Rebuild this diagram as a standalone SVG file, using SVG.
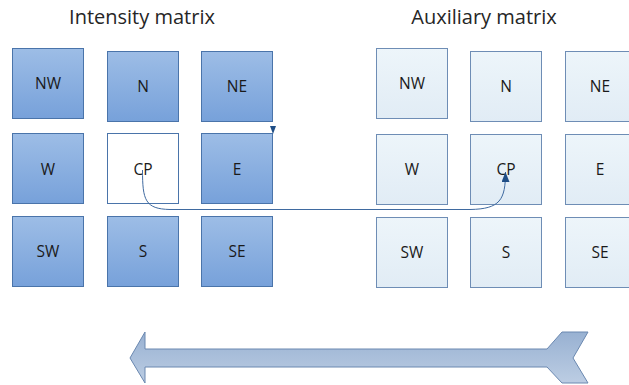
<svg xmlns="http://www.w3.org/2000/svg" width="629" height="385" viewBox="0 0 629 385">
  <defs>
    <linearGradient id="gDark" x1="0" y1="0" x2="0" y2="1">
      <stop offset="0" stop-color="#9dbde6"/>
      <stop offset="1" stop-color="#77a1da"/>
    </linearGradient>
    <linearGradient id="gLight" x1="0" y1="0" x2="0" y2="1">
      <stop offset="0" stop-color="#edf5fa"/>
      <stop offset="1" stop-color="#e1ecf5"/>
    </linearGradient>
    <linearGradient id="gArrow" x1="0" y1="0" x2="0" y2="1">
      <stop offset="0" stop-color="#98b1d2"/>
      <stop offset="1" stop-color="#bccde3"/>
    </linearGradient>
    <marker id="tip" markerWidth="11" markerHeight="8" refX="10" refY="4" orient="auto" markerUnits="userSpaceOnUse" viewBox="0 0 11 8">
      <path d="M0,0 L10,4 L0,8 Z" fill="#1f4e86"/>
    </marker>
  </defs>
  <style>
    .title { font-family: "Open Sans", "Liberation Sans", sans-serif; font-size: 20px; fill: #262626; text-anchor: middle; }
    .lbl { font-family: "Open Sans", "Liberation Sans", sans-serif; font-size: 15.5px; fill: #1a1a1a; text-anchor: middle; dominant-baseline: central; }
    .dark { fill: url(#gDark); stroke: #4a74aa; stroke-width: 1; }
    .light { fill: url(#gLight); stroke: #6e8db5; stroke-width: 1; }
    .blank { fill: #ffffff; stroke: #4a74aa; stroke-width: 1; }
    .conn { fill: none; stroke: #3f6aa0; stroke-width: 1; }
  </style>

  <!-- titles -->
  <text class="title" x="142" y="24">Intensity matrix</text>
  <text class="title" x="484" y="24">Auxiliary matrix</text>

  <!-- intensity matrix -->
  <g id="i-nw"><rect class="dark" x="12.5" y="48.5" width="71" height="70"/><text class="lbl" x="48" y="83">NW</text></g>
  <g id="i-n"><rect class="dark" x="107.5" y="51.5" width="71" height="70"/><text class="lbl" x="143" y="86">N</text></g>
  <g id="i-ne"><rect class="dark" x="201.5" y="51.5" width="71" height="70"/><text class="lbl" x="237" y="86">NE</text></g>
  <g id="i-w"><rect class="dark" x="12.5" y="133.5" width="71" height="70"/><text class="lbl" x="48" y="169">W</text></g>
  <g id="i-cp"><rect class="blank" x="107.5" y="133.5" width="71" height="70"/><text class="lbl" x="143" y="169">CP</text></g>
  <g id="i-e"><rect class="dark" x="201.5" y="133.5" width="71" height="70"/><text class="lbl" x="237" y="169">E</text></g>
  <g id="i-sw"><rect class="dark" x="12.5" y="216.5" width="71" height="70"/><text class="lbl" x="48" y="251">SW</text></g>
  <g id="i-s"><rect class="dark" x="107.5" y="216.5" width="71" height="70"/><text class="lbl" x="143" y="251">S</text></g>
  <g id="i-se"><rect class="dark" x="201.5" y="216.5" width="71" height="70"/><text class="lbl" x="237" y="251">SE</text></g>

  <!-- auxiliary matrix -->
  <g id="a-nw"><rect class="light" x="376.5" y="48.5" width="71" height="70"/><text class="lbl" x="412" y="83">NW</text></g>
  <g id="a-n"><rect class="light" x="470.5" y="51.5" width="71" height="70"/><text class="lbl" x="506" y="86">N</text></g>
  <g id="a-ne"><rect class="light" x="565.5" y="51.5" width="71" height="70"/><text class="lbl" x="600" y="86">NE</text></g>
  <g id="a-w"><rect class="light" x="376.5" y="134.5" width="71" height="70"/><text class="lbl" x="412" y="169">W</text></g>
  <g id="a-cp"><rect class="light" x="470.5" y="134.5" width="71" height="70"/><text class="lbl" x="506" y="169">CP</text></g>
  <g id="a-e"><rect class="light" x="565.5" y="134.5" width="71" height="70"/><text class="lbl" x="600" y="169">E</text></g>
  <g id="a-sw"><rect class="light" x="376.5" y="217.5" width="71" height="70"/><text class="lbl" x="412" y="252">SW</text></g>
  <g id="a-s"><rect class="light" x="470.5" y="217.5" width="71" height="70"/><text class="lbl" x="506" y="252">S</text></g>
  <g id="a-se"><rect class="light" x="565.5" y="217.5" width="71" height="70"/><text class="lbl" x="600" y="252">SE</text></g>

  <!-- connectors -->
  <g id="connectors">
    <path class="conn" d="M142.5,170 C142.5,200 145,209 170,209.5 L470,209.5 C500,209 505.5,200 505.5,172" marker-end="url(#tip)"/>
    <path d="M270,126 L276,126 L273,134 Z" fill="#1f4e86"/>
  </g>

  <!-- direction arrow -->
  <g id="direction">
    <path d="M130,358 L145,332 L145,349 L547,349 L562,332 L588,332 L573,358 L588,383 L562,383 L547,367 L145,367 L145,383 Z" fill="url(#gArrow)" stroke="#6a88b0" stroke-width="1" stroke-linejoin="miter"/>
  </g>
</svg>
